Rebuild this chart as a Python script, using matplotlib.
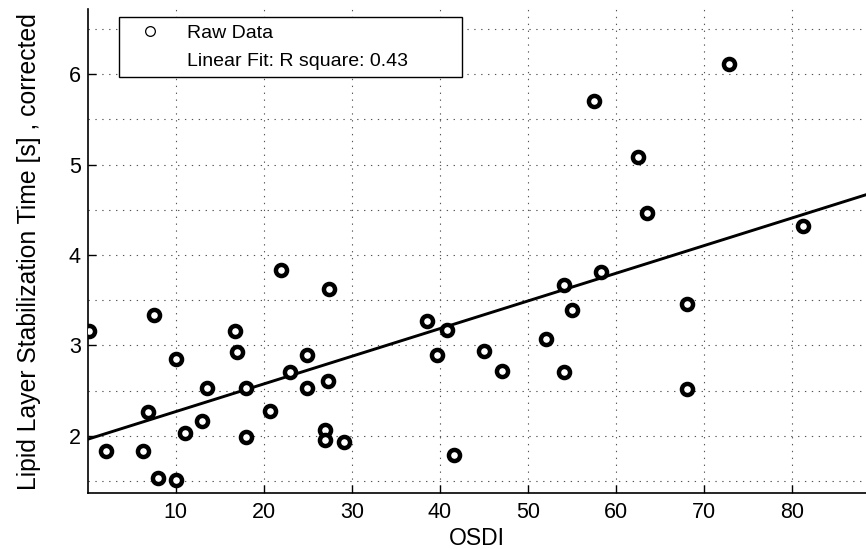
import numpy as np
import matplotlib
matplotlib.use("Agg")
from matplotlib import pyplot as plt
from matplotlib.lines import Line2D
from matplotlib.ticker import MultipleLocator

plt.rcParams['font.family'] = ['Liberation Sans', 'DejaVu Sans']

# values
osdi = [0.1, 7.5, 2.1, 6.25, 6.9, 8.0, 10.0, 10.0, 11.0, 12.95, 13.55,
        16.7, 17.0, 18.0, 18.0, 20.7, 22.95, 24.9, 24.9, 27.3, 26.95,
        26.95, 29.1, 27.4, 21.95, 38.5, 40.8, 39.6, 41.6, 45.0, 47.0,
        52.0, 54.1, 55.0, 54.1, 58.3, 57.45, 62.45, 63.5, 68.0, 68.0,
        72.85, 81.25]
stab_time = [3.16, 3.34, 1.83, 1.83, 2.26, 1.535, 1.51, 2.85, 2.03, 2.16, 2.53,
             3.16, 2.93, 2.53, 1.99, 2.28, 2.71, 2.89, 2.53, 2.61, 2.07,
             1.96, 1.93, 3.62, 3.84, 3.275, 3.17, 2.90, 1.79, 2.94, 2.72,
             3.07, 3.67, 3.39, 2.71, 3.81, 5.70, 5.08, 4.47, 3.46, 2.52,
             6.11, 4.32]

# linear fit as drawn in the picture
fit_intercept = 1.963
fit_slope = 0.0306
r_square = 0.43

xticks = [10, 20, 30, 40, 50, 60, 70, 80]
yticks = [2, 3, 4, 5, 6]

fig = plt.figure(figsize=(8.66, 5.49), dpi=100)
ax = fig.add_axes([0.1012, 0.1015, 0.8988, 0.8821])

ax.plot(osdi, stab_time, 'o', ms=8, mfc='white', mec='black', mew=3.2, zorder=3)

xlim = (0, 88.35)
xf = np.array(xlim)
ax.plot(xf, fit_intercept + fit_slope * xf, color='black', lw=2.1, zorder=2)

ax.set_xlim(*xlim)
ax.set_ylim(1.366, 6.72)
ax.set_xticks(xticks)
ax.set_yticks(yticks)
ax.yaxis.set_minor_locator(MultipleLocator(0.5))
ax.tick_params(which='major', direction='in', length=6, width=1, labelsize=15.5)
ax.tick_params(axis='x', pad=6)
ax.tick_params(axis='y', pad=5)
ax.tick_params(which='minor', length=0)

ax.grid(True, which='major', axis='x', color='#555555', lw=0.8, dashes=(1.2, 5))
ax.grid(True, which='both', axis='y', color='#555555', lw=0.8, dashes=(1.2, 5))
ax.set_axisbelow(True)

for s in ['top', 'right']:
    ax.spines[s].set_visible(False)
for s in ['left', 'bottom']:
    ax.spines[s].set_linewidth(1.2)

ax.set_xlabel('OSDI', fontsize=16.5, labelpad=3)
ax.set_ylabel('Lipid Layer Stabilization Time [s] , corrected', fontsize=17.8, labelpad=20)

# legend: thin open circle for raw data, no visible handle for the fit
h_raw = Line2D([], [], ls='none', marker='o', ms=7, mfc='none', mec='black', mew=0.9)
h_fit = Line2D([], [], color='none')
leg = ax.legend([h_raw, h_fit], ['Raw Data', 'Linear Fit: R square: %.2f' % r_square],
                loc='upper left', bbox_to_anchor=(0.0407, 0.8637, 0.4407, 0.1192),
                mode='expand', borderaxespad=0, fontsize=14, frameon=True,
                fancybox=False, edgecolor='black', framealpha=1,
                handlelength=2.5, handletextpad=0.65, borderpad=0.35, labelspacing=0.55)
leg.get_frame().set_linewidth(1.0)

fig.savefig('out.png', dpi=100)
